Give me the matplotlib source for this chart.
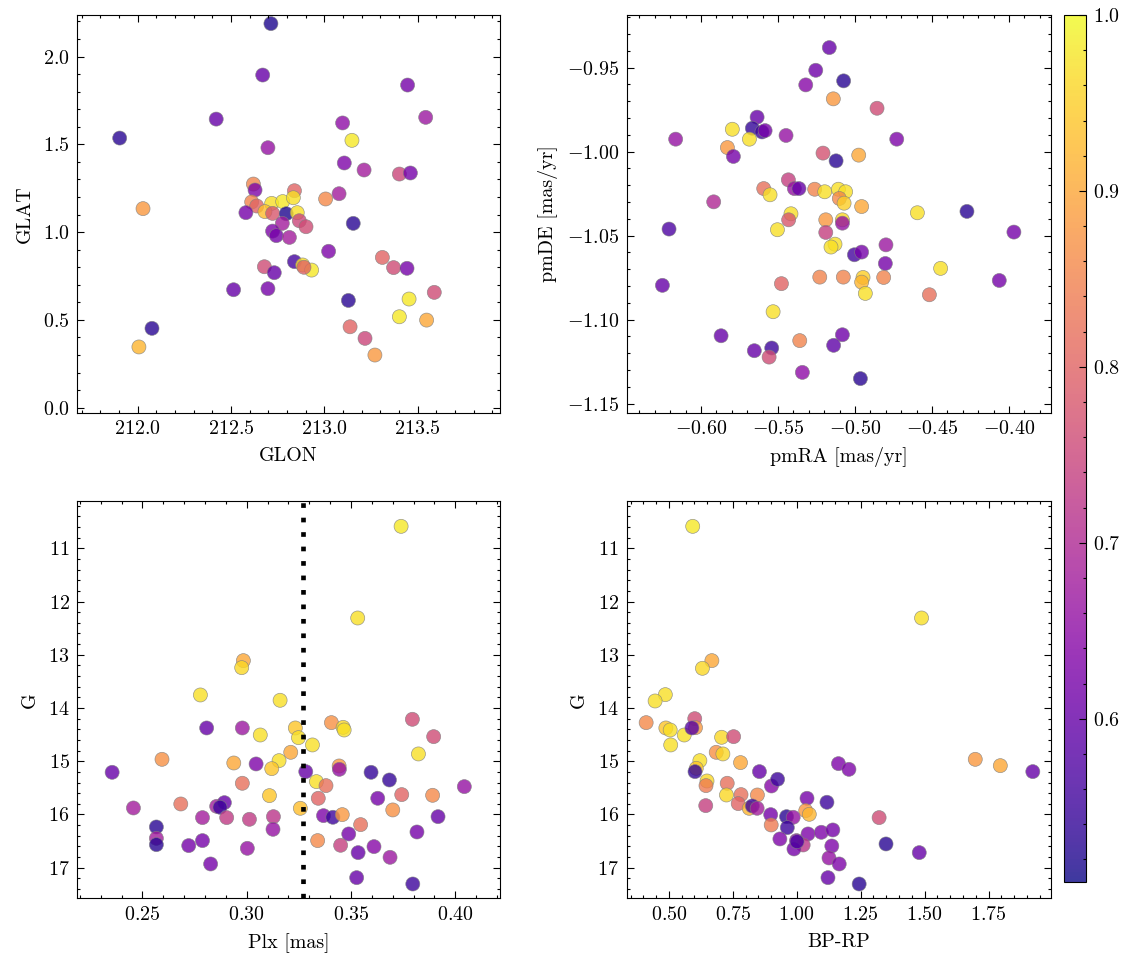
import numpy as np
import matplotlib
matplotlib.use("Agg")
import matplotlib.pyplot as plt
from matplotlib.ticker import MultipleLocator

# ---------------- data ----------------
# Panel 1: GLON / GLAT
glon = [212.714, 212.670, 213.446, 212.421, 213.543, 211.904, 213.098, 213.148, 212.698, 213.107,
        213.213, 213.402, 213.461, 212.620, 212.629, 212.840, 213.007, 213.079, 212.029, 212.611,
        212.638, 212.718, 212.777, 212.834, 212.682, 212.723, 212.580, 212.796, 212.855, 212.866,
        212.902, 212.775, 212.723, 212.743, 212.813, 213.023, 213.155, 212.840, 212.884, 212.932,
        212.891, 212.679, 212.732, 213.311, 213.371, 213.443, 212.514, 212.698, 213.129, 213.454,
        213.589, 213.402, 213.548, 212.077, 213.138, 213.218, 212.007, 213.271]
glat = [2.188, 1.895, 1.838, 1.644, 1.654, 1.536, 1.622, 1.523, 1.481, 1.394,
        1.354, 1.331, 1.337, 1.274, 1.240, 1.236, 1.189, 1.219, 1.134, 1.172,
        1.149, 1.164, 1.174, 1.196, 1.117, 1.107, 1.111, 1.105, 1.111, 1.065,
        1.031, 1.050, 1.006, 0.980, 0.970, 0.891, 1.050, 0.832, 0.813, 0.784,
        0.800, 0.803, 0.769, 0.856, 0.798, 0.794, 0.672, 0.678, 0.611, 0.619,
        0.657, 0.518, 0.499, 0.452, 0.461, 0.395, 0.346, 0.300]
prob_pos = [0.52, 0.60, 0.62, 0.60, 0.67, 0.53, 0.65, 0.98, 0.66, 0.63,
            0.68, 0.75, 0.62, 0.85, 0.63, 0.80, 0.86, 0.68, 0.88, 0.85,
            0.80, 0.97, 0.98, 0.97, 0.93, 0.78, 0.62, 0.52, 0.97, 0.75,
            0.76, 0.68, 0.63, 0.62, 0.68, 0.63, 0.53, 0.56, 0.97, 0.98,
            0.80, 0.76, 0.60, 0.80, 0.76, 0.62, 0.60, 0.62, 0.53, 0.98,
            0.76, 0.98, 0.90, 0.53, 0.80, 0.75, 0.92, 0.88]

# Panel 2: proper motions
pmra = [-0.5167, -0.5255, -0.5074, -0.5320, -0.5141, -0.4857, -0.5636, -0.5667, -0.5604, -0.5584,
        -0.5797, -0.5686, -0.6165, -0.5448, -0.4729, -0.5829, -0.5790, -0.5208, -0.5123, -0.4976,
        -0.5433, -0.5593, -0.5552, -0.5394, -0.5364, -0.5262, -0.5197, -0.5108, -0.5061, -0.5102,
        -0.5071, -0.4957, -0.5918, -0.5416, -0.5431, -0.5190, -0.5082, -0.5082, -0.4595, -0.4273,
        -0.6208, -0.5504, -0.5190, -0.3968, -0.5130, -0.5156, -0.4799, -0.5004, -0.4957, -0.4803,
        -0.4444, -0.6251, -0.5478, -0.5229, -0.5076, -0.4948, -0.4957, -0.4814, -0.4933, -0.4517,
        -0.4063, -0.5532, -0.5870, -0.5082, -0.5139, -0.5654, -0.5541, -0.5558, -0.5359, -0.5342,
        -0.4965]
pmde = [-0.9381, -0.9516, -0.9579, -0.9603, -0.9686, -0.9742, -0.9795, -0.9861, -0.9883, -0.9875,
        -0.9867, -0.9926, -0.9926, -0.9904, -0.9926, -0.9976, -1.0029, -1.0009, -1.0055, -1.0021,
        -1.0168, -1.0220, -1.0257, -1.0220, -1.0220, -1.0224, -1.0239, -1.0224, -1.0239, -1.0279,
        -1.0307, -1.0327, -1.0299, -1.0370, -1.0406, -1.0406, -1.0406, -1.0426, -1.0364, -1.0356,
        -1.0461, -1.0465, -1.0481, -1.0479, -1.0551, -1.0568, -1.0555, -1.0614, -1.0598, -1.0666,
        -1.0695, -1.0796, -1.0786, -1.0747, -1.0747, -1.0749, -1.0777, -1.0749, -1.0844, -1.0852,
        -1.0767, -1.0953, -1.1096, -1.1090, -1.1153, -1.1185, -1.1169, -1.1223, -1.1125, -1.1314,
        -1.1351]
prob_pm = [0.60, 0.61, 0.53, 0.64, 0.88, 0.76, 0.60, 0.54, 0.55, 0.62,
           0.97, 0.97, 0.66, 0.66, 0.63, 0.88, 0.62, 0.77, 0.53, 0.90,
           0.74, 0.82, 0.97, 0.66, 0.60, 0.85, 0.97, 0.97, 0.97, 0.86,
           0.95, 0.90, 0.70, 0.97, 0.78, 0.88, 0.96, 0.66, 0.97, 0.53,
           0.57, 0.97, 0.74, 0.62, 0.97, 0.97, 0.67, 0.56, 0.62, 0.62,
           0.97, 0.60, 0.80, 0.85, 0.85, 0.95, 0.92, 0.85, 0.97, 0.82,
           0.62, 0.97, 0.60, 0.61, 0.59, 0.60, 0.55, 0.76, 0.85, 0.65,
           0.53]

# Panel 3: parallax vs G
plx = [0.3740, 0.3532, 0.2984, 0.2976, 0.2778, 0.3160, 0.2808, 0.2979, 0.3065, 0.3233,
       0.3248, 0.3406, 0.3462, 0.3467, 0.3315, 0.3211, 0.3794, 0.3896, 0.3823, 0.2594,
       0.2938, 0.3045, 0.3155, 0.3120, 0.3283, 0.3443, 0.3444, 0.2355, 0.3596, 0.3684,
       0.4043, 0.2979, 0.3334, 0.3380, 0.3109, 0.3343, 0.3628, 0.3743, 0.3891, 0.2684,
       0.2457, 0.2856, 0.2893, 0.2872, 0.3257, 0.3700, 0.2788, 0.2904, 0.3013, 0.3128,
       0.3368, 0.3413, 0.3458, 0.3917, 0.2567, 0.2567, 0.2567, 0.3126, 0.3546, 0.3489,
       0.3816, 0.2722, 0.2788, 0.3003, 0.3340, 0.3450, 0.3534, 0.3610, 0.3687, 0.2827,
       0.3527, 0.3796]
g_plx = [10.587, 12.309, 13.110, 13.242, 13.755, 13.855, 14.375, 14.375, 14.507, 14.375,
         14.557, 14.275, 14.363, 14.413, 14.694, 14.832, 14.212, 14.538, 14.863, 14.964,
         15.033, 15.051, 14.989, 15.139, 15.195, 15.089, 15.152, 15.208, 15.208, 15.352,
         15.477, 15.414, 15.383, 15.458, 15.646, 15.696, 15.696, 15.627, 15.640, 15.803,
         15.878, 15.847, 15.778, 15.865, 15.884, 15.915, 16.059, 16.059, 16.091, 16.041,
         16.022, 16.053, 16.003, 16.041, 16.235, 16.448, 16.567, 16.279, 16.191, 16.366,
         16.329, 16.585, 16.491, 16.636, 16.491, 16.579, 16.717, 16.604, 16.805, 16.930,
         17.187, 17.306]
prob_plx = [0.98, 0.97, 0.90, 0.96, 0.97, 0.97, 0.60, 0.67, 0.97, 0.94,
            0.97, 0.87, 0.96, 0.97, 0.97, 0.90, 0.76, 0.76, 0.97, 0.87,
            0.90, 0.63, 0.97, 0.94, 0.60, 0.88, 0.66, 0.60, 0.54, 0.54,
            0.66, 0.82, 0.97, 0.82, 0.94, 0.80, 0.62, 0.80, 0.86, 0.82,
            0.68, 0.68, 0.60, 0.55, 0.93, 0.87, 0.68, 0.73, 0.73, 0.72,
            0.63, 0.55, 0.88, 0.60, 0.53, 0.68, 0.53, 0.66, 0.82, 0.62,
            0.62, 0.62, 0.62, 0.66, 0.86, 0.74, 0.60, 0.64, 0.67, 0.62,
            0.60, 0.55]
plx_cut = 0.3268

# Panel 4: colour-magnitude diagram
bprp = [0.593, 1.488, 0.668, 0.631, 0.486, 0.446, 0.411, 0.488, 0.505, 0.507,
        0.560, 0.601, 0.604, 0.590, 0.706, 0.753, 0.685, 0.711, 0.621, 0.780,
        0.607, 0.602, 0.854, 1.163, 1.204, 1.698, 1.796, 1.923, 0.649, 0.645,
        0.728, 0.901, 0.925, 0.644, 0.725, 0.782, 0.771, 0.846, 0.814, 0.826,
        0.845, 1.040, 1.118, 1.035, 1.049, 0.898, 0.960, 0.986, 0.900, 0.963,
        1.322, 0.934, 1.044, 1.096, 1.141, 0.999, 1.025, 0.989, 1.001, 1.137,
        1.126, 1.166, 1.349, 1.479, 1.122, 1.244]
g_cmd = [10.587, 12.309, 13.110, 13.254, 13.749, 13.868, 14.275, 14.375, 14.413, 14.694,
         14.507, 14.200, 14.369, 14.375, 14.550, 14.538, 14.832, 14.863, 14.989, 15.026,
         15.133, 15.195, 15.195, 15.045, 15.152, 14.964, 15.083, 15.195, 15.371, 15.458,
         15.414, 15.465, 15.339, 15.834, 15.634, 15.627, 15.796, 15.634, 15.884, 15.840,
         15.884, 15.696, 15.771, 15.928, 15.997, 16.003, 16.041, 16.053, 16.197, 16.247,
         16.059, 16.460, 16.366, 16.335, 16.291, 16.491, 16.573, 16.648, 16.510, 16.592,
         16.817, 16.930, 16.554, 16.717, 17.187, 17.306]
prob_cmd = [0.98, 0.97, 0.90, 0.96, 0.97, 0.97, 0.86, 0.94, 0.97, 0.97,
            0.97, 0.76, 0.88, 0.58, 0.96, 0.76, 0.87, 0.96, 0.97, 0.90,
            0.94, 0.54, 0.60, 0.63, 0.63, 0.88, 0.90, 0.60, 0.96, 0.84,
            0.82, 0.64, 0.55, 0.74, 0.96, 0.82, 0.80, 0.86, 0.92, 0.55,
            0.68, 0.62, 0.55, 0.88, 0.92, 0.62, 0.53, 0.66, 0.84, 0.55,
            0.76, 0.63, 0.63, 0.63, 0.62, 0.66, 0.72, 0.62, 0.57, 0.63,
            0.66, 0.63, 0.53, 0.60, 0.60, 0.53]

prob_min, prob_max = 0.507, 1.0

# ---------------- style ----------------
plt.rcParams.update({
    "font.family": "serif",
    "font.serif": ["cmr10"],
    "mathtext.fontset": "cm",
    "axes.formatter.use_mathtext": True,
    "font.size": 9,
    "axes.linewidth": 0.5,
    "xtick.direction": "in",
    "ytick.direction": "in",
    "xtick.top": True,
    "ytick.right": True,
    "xtick.major.size": 3,
    "ytick.major.size": 3,
    "xtick.minor.size": 1.5,
    "ytick.minor.size": 1.5,
    "xtick.major.width": 0.5,
    "ytick.major.width": 0.5,
    "xtick.minor.width": 0.5,
    "ytick.minor.width": 0.5,
    "xtick.minor.visible": True,
    "ytick.minor.visible": True,
})

W, H = 1133, 965
DPI = 160
fig = plt.figure(figsize=(W / DPI, H / DPI), dpi=DPI)


def px_axes(x0, y0, x1, y1):
    return fig.add_axes([x0 / W, 1 - y1 / H, (x1 - x0) / W, (y1 - y0) / H])


ax1 = px_axes(77.3, 15, 500, 412.7)
ax2 = px_axes(626.7, 15, 1050.7, 412.7)
ax3 = px_axes(77.3, 501, 500, 898.3)
ax4 = px_axes(626.7, 501, 1050.7, 898.3)
cax = px_axes(1064.3, 15, 1085.7, 882.3)

kw = dict(cmap="plasma", vmin=prob_min, vmax=prob_max, s=40, alpha=0.8,
          edgecolors="gray", linewidths=0.3)

sc = ax1.scatter(glon, glat, c=prob_pos, **kw)
ax1.set_xlim(211.677, 213.941)
ax1.set_ylim(-0.0285, 2.237)
ax1.xaxis.set_major_locator(MultipleLocator(0.5))
ax1.xaxis.set_minor_locator(MultipleLocator(0.1))
ax1.yaxis.set_major_locator(MultipleLocator(0.5))
ax1.yaxis.set_minor_locator(MultipleLocator(0.1))
ax1.set_xlabel("GLON")
ax1.set_ylabel("GLAT")

ax2.scatter(pmra, pmde, c=prob_pm, **kw)
ax2.set_xlim(-0.6483, -0.3729)
ax2.set_ylim(-1.1554, -0.9187)
ax2.xaxis.set_major_locator(MultipleLocator(0.05))
ax2.xaxis.set_minor_locator(MultipleLocator(0.01))
ax2.yaxis.set_major_locator(MultipleLocator(0.05))
ax2.yaxis.set_minor_locator(MultipleLocator(0.01))
ax2.set_xlabel("pmRA [mas/yr]")
ax2.set_ylabel("pmDE [mas/yr]")

ax3.scatter(plx, g_plx, c=prob_plx, **kw)
ax3.axvline(plx_cut, color="black", linestyle=(0, (1, 2.1)), linewidth=2.1,
            dash_capstyle="butt")
ax3.set_xlim(0.2188, 0.4214)
ax3.set_ylim(17.575, 10.111)
ax3.xaxis.set_major_locator(MultipleLocator(0.05))
ax3.xaxis.set_minor_locator(MultipleLocator(0.01))
ax3.yaxis.set_major_locator(MultipleLocator(1))
ax3.yaxis.set_minor_locator(MultipleLocator(0.2))
ax3.set_xlabel("Plx [mas]")
ax3.set_ylabel("G")

ax4.scatter(bprp, g_cmd, c=prob_cmd, **kw)
ax4.set_xlim(0.3349, 1.993)
ax4.set_ylim(17.575, 10.111)
ax4.xaxis.set_major_locator(MultipleLocator(0.25))
ax4.xaxis.set_minor_locator(MultipleLocator(0.05))
ax4.yaxis.set_major_locator(MultipleLocator(1))
ax4.yaxis.set_minor_locator(MultipleLocator(0.2))
ax4.set_xlabel("BP-RP")
ax4.set_ylabel("G")

cb = fig.colorbar(sc, cax=cax)
cb.outline.set_linewidth(0.5)
cb.ax.yaxis.set_major_locator(MultipleLocator(0.1))
cb.ax.yaxis.set_minor_locator(MultipleLocator(0.02))
cb.ax.tick_params(which="both", left=False, right=True)

fig.savefig("out.png", dpi=DPI)
